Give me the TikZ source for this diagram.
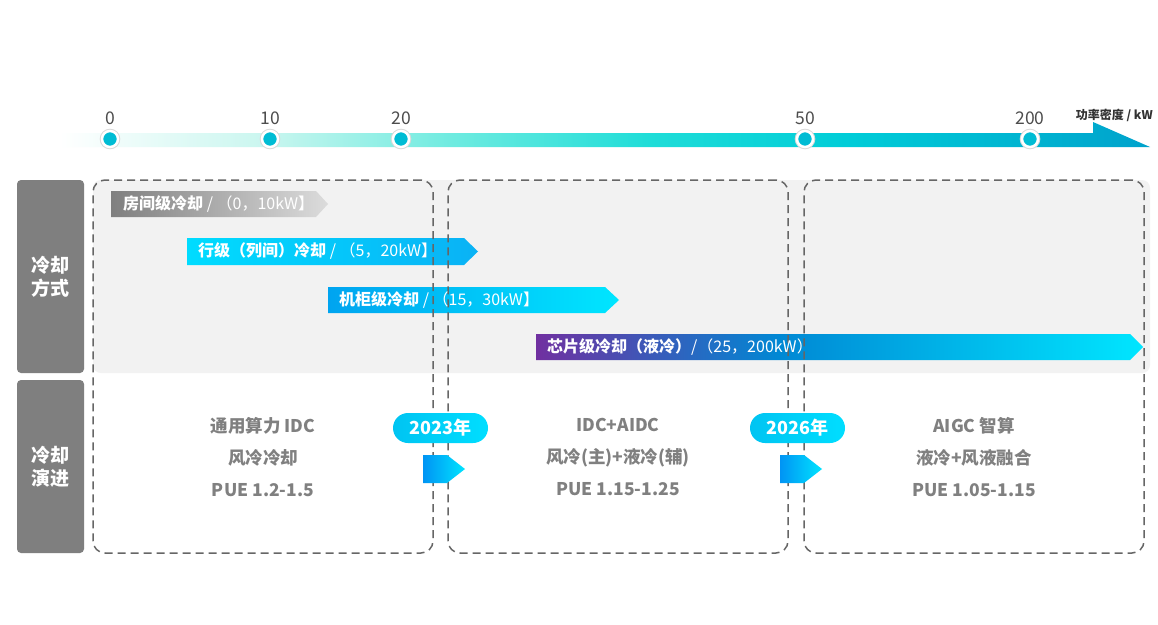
\documentclass[tikz,border=0pt]{standalone}
\usepackage{fontspec}
\setmainfont{Noto Sans CJK SC}
\usetikzlibrary{positioning}

\definecolor{sidegray}{HTML}{7F7F7F}
\definecolor{bggray}{HTML}{F2F2F2}
\definecolor{dashgray}{HTML}{666666}
\definecolor{textgray}{HTML}{808080}
\definecolor{numgray}{HTML}{4D4D4D}
\definecolor{unitgray}{HTML}{333333}
\definecolor{tickteal}{HTML}{00BCD4}
\definecolor{axA}{HTML}{C9F6EF}
\definecolor{axB}{HTML}{6EEBE0}
\definecolor{axC}{HTML}{1FDDD8}
\definecolor{axD}{HTML}{00CDD8}
\definecolor{axE}{HTML}{00A2CC}
\definecolor{roomL}{HTML}{7F7F7F}
\definecolor{roomR}{HTML}{DCDCDC}
\definecolor{rowL}{HTML}{00DCFF}
\definecolor{rowR}{HTML}{0AB2F5}
\definecolor{rackL}{HTML}{00A4F0}
\definecolor{rackR}{HTML}{00E6FF}
\definecolor{chipA}{HTML}{7030A0}
\definecolor{chipB}{HTML}{0088D4}
\definecolor{chipC}{HTML}{00E6FF}
\definecolor{pillL}{HTML}{00C4F2}
\definecolor{pillR}{HTML}{00DEFF}
\definecolor{stepL}{HTML}{0094F4}
\definecolor{stepR}{HTML}{00E4FF}

\pgfdeclarehorizontalshading{axisfade}{100bp}{color(0bp)=(white); color(25bp)=(white);
  color(34.5bp)=(axA); color(43bp)=(axB); color(52bp)=(axC); color(61bp)=(axD);
  color(75bp)=(axE); color(100bp)=(axE)}
\pgfdeclarehorizontalshading{chipfade}{100bp}{color(0bp)=(chipA); color(25bp)=(chipA);
  color(45bp)=(chipB); color(75bp)=(chipC); color(100bp)=(chipC)}

\begin{document}
\begin{tikzpicture}[
    x=1pt, y=-1pt,
    every node/.style={inner sep=0pt},
    sidebox/.style={fill=sidegray, rounded corners=4pt, minimum width=67pt, text=white,
        font=\bfseries\fontsize{19}{23}\selectfont, align=center},
    stagebox/.style={draw=dashgray, line width=1.5pt, dash pattern=on 8pt off 5pt,
        rounded corners=12pt, minimum width=340pt, minimum height=373pt},
    stagetext/.style={text=textgray, font=\bfseries\fontsize{17.5}{32}\selectfont, align=center},
    tickdot/.style={circle, fill=tickteal, draw=white, line width=2.5pt, minimum size=16pt,
        preaction={draw=black!15, line width=4.5pt}},
    ticklabel/.style={text=numgray, font=\fontsize{17.5}{17.5}\selectfont},
    bartext/.style={anchor=west, text=white, font=\fontsize{16}{16}\selectfont},
    yearpill/.style={rounded corners=15pt, minimum width=95pt, minimum height=30pt,
        left color=pillL, right color=pillR, text=white,
        font=\bfseries\fontsize{18}{18}\selectfont}
]
\fill[white] (0,0) rectangle (1158,624);
\useasboundingbox (0,0) rectangle (1158,624);

% Power density axis
\shade[shading=axisfade] (60,133) -- (1093,133) -- (1093,122) -- (1150,147) -- (60,147) -- cycle;
\foreach \xx/\val [count=\i] in {110/0, 270/10, 401/20, 805/50, 1030/200} {
    \node[tickdot] (dot\i) at (\xx,139) {};
    \node[ticklabel, above=5pt of dot\i] (num\i) {\val};
}
\node[anchor=east, text=unitgray, font=\bfseries\fontsize{12}{12}\selectfont] (unit) at (1153,115) {功率密度 / kW};

% Row headers
\node[sidebox, minimum height=193pt] (mode) at (50.5,276.5) {冷却\\方式};
\node[sidebox, minimum height=173pt] (evol) at (50.5,466.5) {冷却\\演进};

% Shaded band behind the cooling bars
\fill[bggray, rounded corners=8pt] (93,180) rectangle (1150,373);

% Cooling bars
\shade[left color=roomL, right color=roomR]
    (111,191) -- (316,191) -- (328,204) -- (316,217) -- (111,217) -- cycle;
\shade[left color=rowL, right color=rowR]
    (187,238) -- (464,238) -- (478,251.5) -- (464,265) -- (187,265) -- cycle;
\shade[left color=rackL, right color=rackR]
    (328,287) -- (605,287) -- (619,300) -- (605,313) -- (328,313) -- cycle;
\shade[shading=chipfade]
    (536,334) -- (1130,334) -- (1143,347) -- (1130,360) -- (536,360) -- cycle;

% Stages
\node[stagebox] (s1) at (263,366.5) {};
\node[stagebox] (s2) at (618,366.5) {};
\node[stagebox] (s3) at (974,366.5) {};

% Bar labels
\node[bartext] (room) at (123,204) {{\bfseries 房间级冷却} / （0，10kW】};
\node[bartext] (row) at (198,251.5) {{\bfseries 行级（列间）冷却} / （5，20kW】};
\node[bartext] (rack) at (339,300) {{\bfseries 机柜级冷却} / （15，30kW】};
\node[bartext] (chip) at (547,347) {{\bfseries 芯片级冷却（液冷）}/（25，200kW）};

% Stage texts
\node[stagetext] (t1) at (263,457) {通用算力 IDC\\风冷冷却\\PUE 1.2-1.5};
\node[stagetext] (t2) at (618,457) {IDC+AIDC\\风冷(主)+液冷(辅)\\PUE 1.15-1.25};
\node[stagetext] (t3) at (974,457) {AIGC 智算\\液冷+风液融合\\PUE 1.05-1.15};

% Year markers
\shade[left color=stepL, right color=stepR]
    (423,455) -- (447,455) -- (465,469) -- (447,483) -- (423,483) -- cycle;
\shade[left color=stepL, right color=stepR]
    (780,455) -- (804,455) -- (822,469) -- (804,483) -- (780,483) -- cycle;
\node[yearpill] (y1) at (440.5,428) {2023年};
\node[yearpill] (y2) at (797.5,428) {2026年};
\end{tikzpicture}
\end{document}
